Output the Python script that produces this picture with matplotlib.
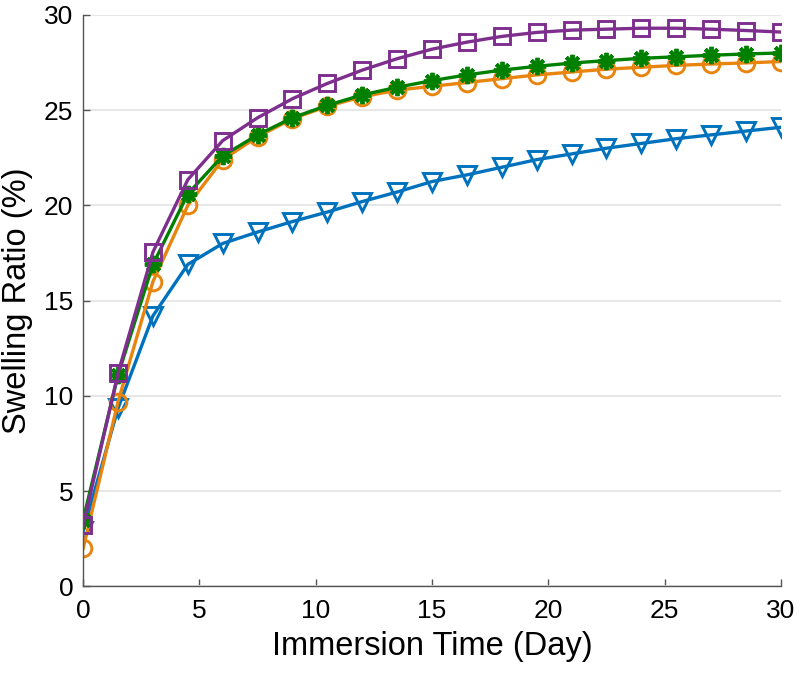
import numpy as np
import matplotlib.pyplot as plt
plt.switch_backend('Agg')

plt.rcParams['font.family'] = ['Liberation Sans', 'DejaVu Sans']

days = [0, 1.5, 3, 4.5, 6, 7.5, 9, 10.5, 12, 13.5, 15,
        16.5, 18, 19.5, 21, 22.5, 24, 25.5, 27, 28.5, 30]

blue_vals = [2.9, 9.35, 14.2, 16.9, 18.0, 18.6, 19.15, 19.65, 20.2, 20.7, 21.25,
             21.6, 22.0, 22.4, 22.7, 23.0, 23.25, 23.5, 23.7, 23.9, 24.1]
orange_vals = [2.0, 9.7, 16.0, 20.0, 22.4, 23.6, 24.55, 25.2, 25.7, 26.05, 26.25,
               26.45, 26.65, 26.85, 27.0, 27.15, 27.25, 27.35, 27.42, 27.48, 27.55]
green_vals = [3.5, 11.1, 16.9, 20.6, 22.6, 23.7, 24.6, 25.25, 25.8, 26.2, 26.55,
              26.85, 27.1, 27.3, 27.47, 27.6, 27.72, 27.8, 27.88, 27.95, 28.0]
purple_vals = [3.2, 11.2, 17.55, 21.35, 23.4, 24.6, 25.6, 26.4, 27.1, 27.7, 28.2,
               28.57, 28.87, 29.08, 29.2, 29.25, 29.3, 29.3, 29.25, 29.18, 29.1]

fig = plt.figure(figsize=(8, 6.77), dpi=100)
ax = fig.add_axes([0.104, 0.134, 0.872, 0.844])

mew = 2.1
lw = 2.4
ax.plot(days, blue_vals, color='#0072BD', marker='v', ms=13.5, mfc='none', mew=mew, lw=lw)
ax.plot(days, orange_vals, color='#E8850F', marker='o', ms=12, mfc='none', mew=mew, lw=lw)
ax.plot(days, green_vals, color='#008000', marker=(8, 2, 0), ms=12.5, mew=2.8, lw=lw)
ax.plot(days, purple_vals, color='#7E2F8E', marker='s', ms=11.5, mfc='none', mew=mew, lw=lw)

ax.set_xlim(0, 30)
ax.set_ylim(0, 30)
ax.set_xticks(range(0, 31, 5))
ax.set_yticks(range(0, 31, 5))
ax.yaxis.grid(True, color='#e3e3e3', lw=1.2)
ax.set_axisbelow(True)
ax.spines['top'].set_visible(False)
ax.spines['right'].set_visible(False)
for s in ['left', 'bottom']:
    ax.spines[s].set_color('#555555')
    ax.spines[s].set_linewidth(1.0)
ax.tick_params(direction='in', length=5, width=1.0, color='#555555',
               labelsize=19)
ax.tick_params(axis='x', pad=9)
ax.tick_params(axis='y', pad=7)
ax.set_xlabel('Immersion Time (Day)', fontsize=23.5, labelpad=6)
ax.set_ylabel('Swelling Ratio (%)', fontsize=23.5, labelpad=8)

plt.savefig('out.png', dpi=100)
